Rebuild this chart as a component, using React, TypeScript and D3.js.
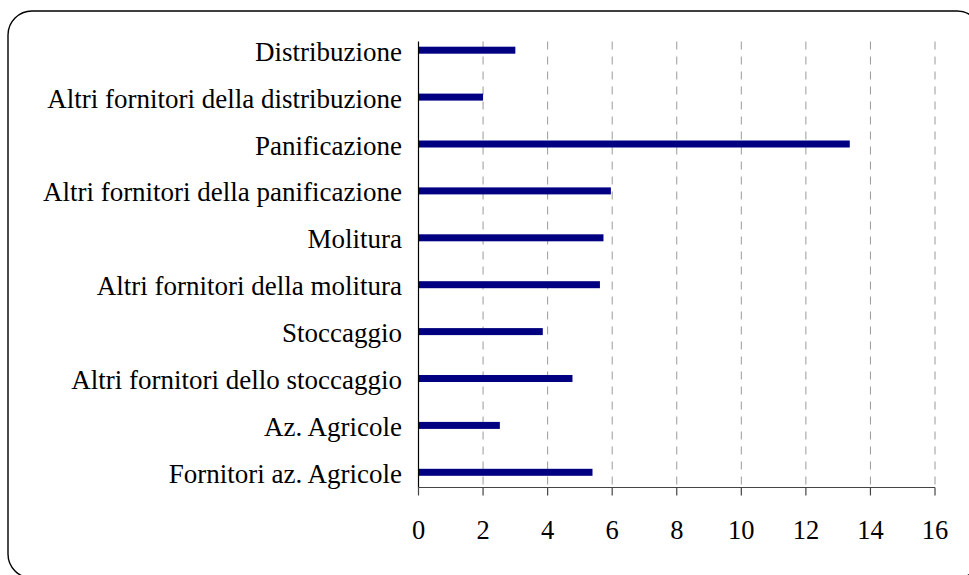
import React from "react";
import * as d3 from "d3";

const categories = [
  "Distribuzione",
  "Altri fornitori della distribuzione",
  "Panificazione",
  "Altri fornitori della panificazione",
  "Molitura",
  "Altri fornitori della molitura",
  "Stoccaggio",
  "Altri fornitori dello stoccaggio",
  "Az. Agricole",
  "Fornitori az. Agricole",
];
const values = [3.0, 2.0, 13.36, 5.96, 5.73, 5.62, 3.85, 4.77, 2.52, 5.39];
const xTicks = [0, 2, 4, 6, 8, 10, 12, 14, 16];

const W = 969;
const H = 575;
const X0 = 418.5;
const X1 = 935;
const PLOT_TOP = 41.5;
const PLOT_BOTTOM = 487.5;

export default function App() {
  const x = d3.scaleLinear().domain([0, 16]).range([X0, X1]);
  const y = d3.scalePoint<string>().domain(categories).range([50.2, 472.3]);
  const barH = 7;
  const font = "'Liberation Serif', 'Times New Roman', serif";

  return (
    <svg
      width={W}
      height={H}
      style={{ position: "absolute", left: 0, top: 0, background: "#fff" }}
    >
      <rect x={8} y={11} width={973} height={567} rx={24} ry={24} fill="#fff" stroke="#000" strokeWidth={1.4} />
      {xTicks.slice(1).map((t) => (
        <line
          key={"g" + t}
          x1={x(t)}
          x2={x(t)}
          y1={PLOT_TOP}
          y2={PLOT_BOTTOM}
          stroke="#9a9a9a"
          strokeWidth={1}
          strokeDasharray="8,7"
        />
      ))}
      {categories.map((c, i) => (
        <rect
          key={c}
          x={x(0)}
          y={(y(c) as number) - barH / 2}
          width={x(values[i]) - x(0)}
          height={barH}
          fill="#000080"
        />
      ))}
      <line x1={X0} x2={X0} y1={PLOT_TOP} y2={PLOT_BOTTOM} stroke="#000" strokeWidth={1.2} />
      <line x1={X0} x2={X1} y1={PLOT_BOTTOM} y2={PLOT_BOTTOM} stroke="#444" strokeWidth={1.2} />
      {xTicks.map((t) => (
        <g key={"t" + t}>
          <line x1={x(t)} x2={x(t)} y1={PLOT_BOTTOM} y2={PLOT_BOTTOM + 8} stroke="#444" strokeWidth={1.2} />
          <text
            x={x(t)}
            y={530}
            textAnchor="middle"
            dominantBaseline="central"
            fontFamily={font}
            fontSize={26.5}
            fill="#000"
          >
            {t}
          </text>
        </g>
      ))}
      {categories.map((c) => (
        <text
          key={"l" + c}
          x={402}
          y={(y(c) as number) + 1.5}
          textAnchor="end"
          dominantBaseline="central"
          fontFamily={font}
          fontSize={27}
          fill="#000"
        >
          {c}
        </text>
      ))}
    </svg>
  );
}
